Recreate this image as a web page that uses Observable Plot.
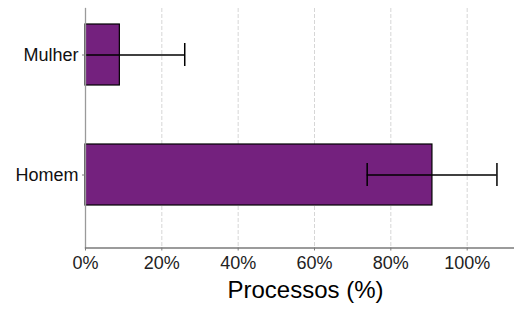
<!DOCTYPE html>
<html>
<head>
<meta charset="utf-8">
<script src="https://cdn.jsdelivr.net/npm/d3@7"></script>
<script src="https://cdn.jsdelivr.net/npm/@observablehq/plot@0.6"></script>
<style>
  html, body { margin: 0; padding: 0; background: #fff; overflow: hidden; }
  svg { display: block; }
</style>
</head>
<body>
<div id="chart"></div>
<script>
const categories = ["Mulher", "Homem"];
const values = [9.0, 90.9];
const lower = [-8.0, 73.8];
const upper = [26.0, 107.8];
const xTicks = [0, 20, 40, 60, 80, 100];
const gridTicks = [20, 40, 60, 80, 100];
const xLabel = "Processos (%)";

const data = categories.map((c, i) => ({cat: c, value: values[i], lo: lower[i], hi: upper[i]}));

const chart = Plot.plot({
  width: 514,
  height: 309,
  marginTop: 8,
  marginBottom: 61.5,
  marginLeft: 85,
  marginRight: 0,
  style: {fontFamily: "'Liberation Sans', Arial, sans-serif", background: "#fff"},
  x: {domain: [0, 112.4]},
  y: {domain: categories, range: [-5, 235], paddingInner: 0.49, paddingOuter: 0.245},
  marks: [
    Plot.gridX(gridTicks, {stroke: "#d6d6d6", strokeOpacity: 1, strokeDasharray: "4,2", strokeWidth: 1}),
    Plot.barX(data, {x: "value", y: "cat", fill: "#74217e", stroke: "#000", strokeWidth: 1.2}),
    Plot.ruleY(data, {y: "cat", x1: "lo", x2: "hi", stroke: "#000", strokeWidth: 1.3, clip: true}),
    Plot.tickX(data, {x: "lo", y: "cat", stroke: "#000", strokeWidth: 1.5, insetTop: 19, insetBottom: 19, clip: true}),
    Plot.tickX(data, {x: "hi", y: "cat", stroke: "#000", strokeWidth: 1.5, insetTop: 19, insetBottom: 19, clip: true}),
    Plot.frame({anchor: "left", stroke: "#9a9a9a", strokeWidth: 1.3}),
    Plot.frame({anchor: "bottom", stroke: "#7a7a7a", strokeWidth: 1.3}),
    Plot.axisX(xTicks, {tickFormat: d => d + "%", tickSize: 3, tickPadding: 5, fontSize: 18, stroke: "#7a7a7a", fill: "#222", label: null}),
    Plot.axisY({tickSize: 3, tickPadding: 4, fontSize: 18, stroke: "#7a7a7a", fill: "#111", label: null}),
    Plot.text([xLabel], {text: d => d, frameAnchor: "bottom", dy: 50, dx: 5.5, fontSize: 24, fill: "#000"})
  ]
});
document.getElementById("chart").appendChild(chart);
</script>
</body>
</html>
